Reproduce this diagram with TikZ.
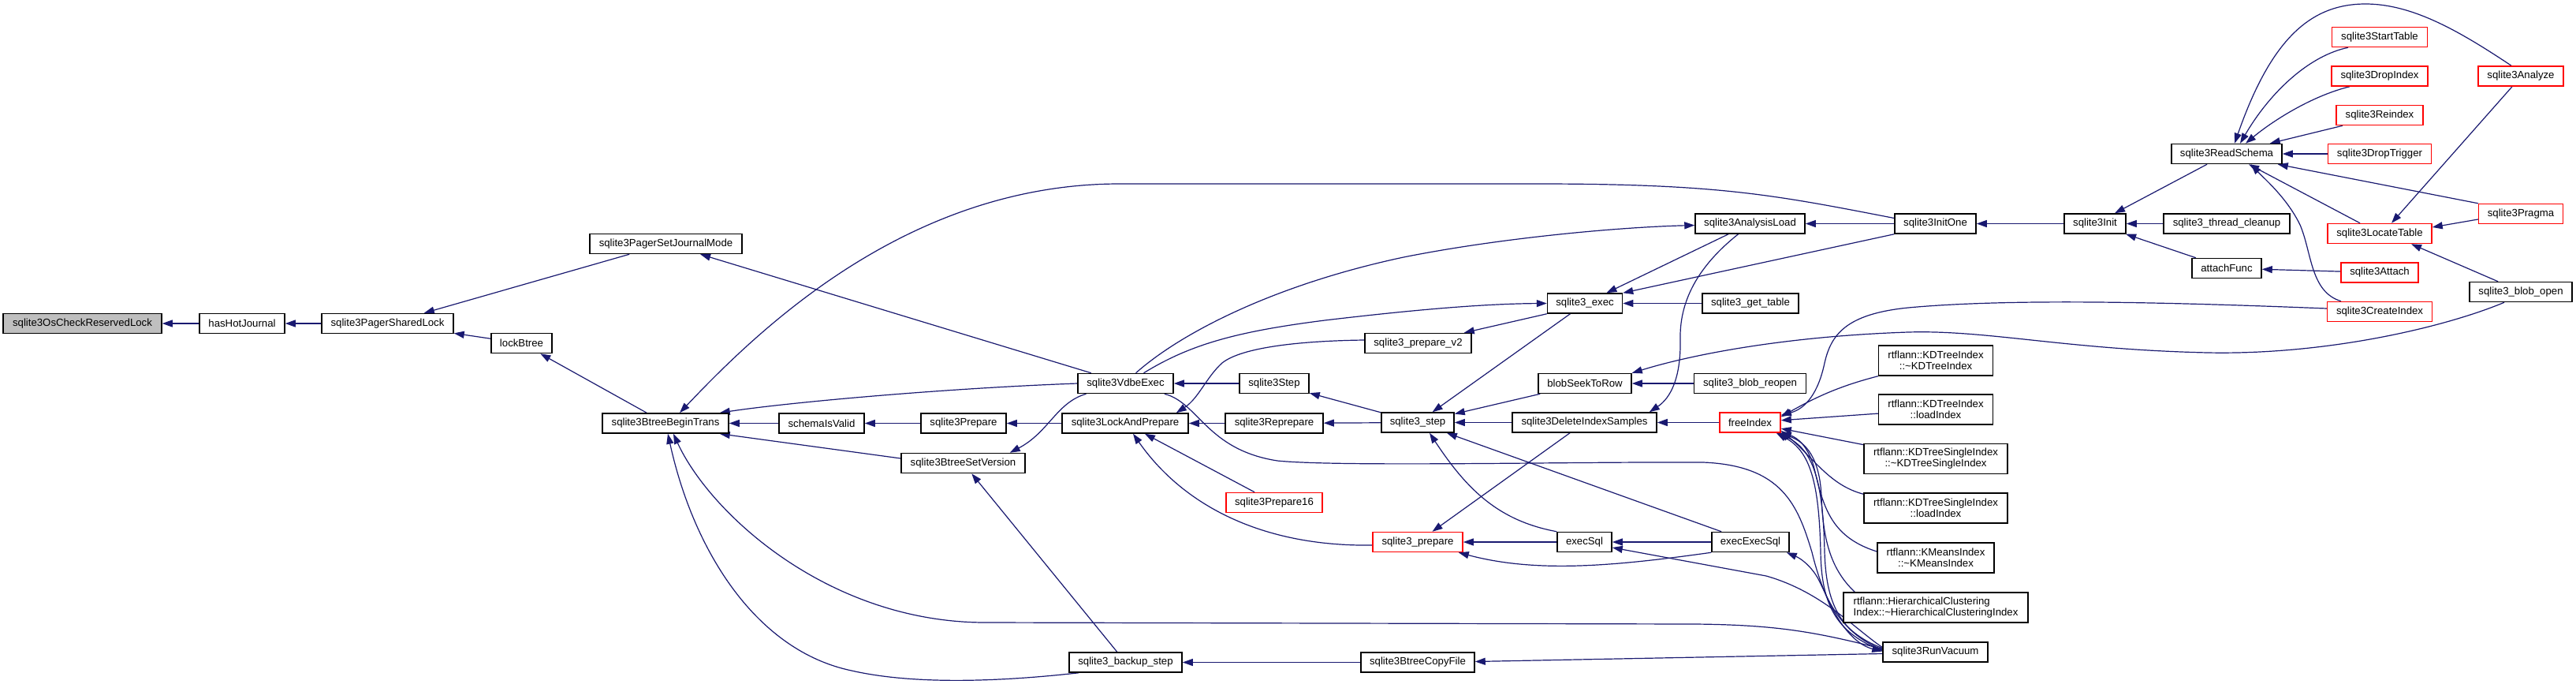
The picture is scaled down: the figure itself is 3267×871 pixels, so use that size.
\documentclass[tikz,border=0pt]{standalone}
\usepackage{fontspec}
\setmainfont{Liberation Sans}
\usetikzlibrary{arrows.meta}
\definecolor{edgec}{HTML}{191970}
\definecolor{rootfill}{HTML}{BFBFBF}
\pgfdeclarelayer{bg}
\pgfsetlayers{bg,main}
\tikzset{
 box/.style={draw=black, line width=1.5pt, fill=white, inner sep=0pt, minimum height=25pt, font=\fontsize{13.2pt}{14pt}\selectfont, anchor=center},
 redbox/.style={box, draw=red},
 tall/.style={minimum height=38pt, align=center},
 edge/.style={draw=edgec, line width=1.2pt, -{Triangle[length=13pt,width=9pt]}},
}
\begin{document}
\begin{tikzpicture}[x=1pt,y=-1pt]
\useasboundingbox (0,0) rectangle (3267,871);
% nodes
\node[box,fill=rootfill,minimum width=201pt] (oscheck) at (104.5,410) {sqlite3OsCheckReservedLock};
\node[box,minimum width=108pt] (hashot) at (307,410) {hasHotJournal};
\node[box,minimum width=167pt] (pshared) at (491.5,410) {sqlite3PagerSharedLock};
\node[box,minimum width=193pt] (psjm) at (844.5,309) {sqlite3PagerSetJournalMode};
\node[box,minimum width=77pt] (lockbtree) at (661.5,435) {lockBtree};
\node[box,minimum width=160pt] (bbt) at (844,536.5) {sqlite3BtreeBeginTrans};
\node[box,minimum width=108pt] (schemavalid) at (1042,536.5) {schemaIsValid};
\node[box,minimum width=121pt] (vdbeexec) at (1427.5,486) {sqlite3VdbeExec};
\node[box,minimum width=108pt] (prepare) at (1222,536.5) {sqlite3Prepare};
\node[box,minimum width=160pt] (lap) at (1427,536.5) {sqlite3LockAndPrepare};
\node[box,minimum width=157pt] (bsv) at (1221.5,587) {sqlite3BtreeSetVersion};
\node[box,minimum width=143pt] (backup) at (1427.5,839.5) {sqlite3\_backup\_step};
\node[box,minimum width=88pt] (step) at (1616,486) {sqlite3Step};
\node[box,minimum width=124pt] (reprepare) at (1616,536.5) {sqlite3Reprepare};
\node[redbox,minimum width=122pt] (prep16) at (1616,637) {sqlite3Prepare16};
\node[box,minimum width=135pt] (prepv2) at (1798.5,435) {sqlite3\_prepare\_v2};
\node[box,minimum width=95pt] (exec) at (2010,384.5) {sqlite3\_exec};
\node[box,minimum width=92pt] (stepu) at (1798,535.5) {sqlite3\_step};
\node[box,minimum width=118pt] (blobseek) at (2010,486) {blobSeekToRow};
\node[box,minimum width=183pt] (delidx) at (2009.5,535.5) {sqlite3DeleteIndexSamples};
\node[redbox,minimum width=114pt] (prepareu) at (1798,687) {sqlite3\_prepare};
\node[box,minimum width=69pt] (execsql) at (2009.5,687) {execSql};
\node[box,minimum width=144pt] (copyfile) at (1798,839.5) {sqlite3BtreeCopyFile};
\node[box,minimum width=139pt] (analysisload) at (2219.5,283.5) {sqlite3AnalysisLoad};
\node[box,minimum width=122pt] (gettable) at (2220,384.5) {sqlite3\_get\_table};
\node[box,minimum width=142pt] (blobreopen) at (2219.5,486) {sqlite3\_blob\_reopen};
\node[box,minimum width=98pt] (execexecsql) at (2220,687) {execExecSql};
\node[box,minimum width=103pt] (initone) at (2454.5,283.5) {sqlite3InitOne};
\node[box,minimum width=78pt] (init) at (2657,283.5) {sqlite3Init};
\node[redbox,minimum width=77pt] (freeindex) at (2219.5,535.5) {freeIndex};
\node[box,tall,minimum width=145pt] (kda) at (2455,457) {rtflann::KDTreeIndex\\::\textasciitilde KDTreeIndex};
\node[box,tall,minimum width=145pt] (kdb) at (2455,519) {rtflann::KDTreeIndex\\::loadIndex};
\node[box,tall,minimum width=182pt] (kdsa) at (2455,581.5) {rtflann::KDTreeSingleIndex\\::\textasciitilde KDTreeSingleIndex};
\node[box,tall,minimum width=182pt] (kdsb) at (2455,644) {rtflann::KDTreeSingleIndex\\::loadIndex};
\node[box,tall,minimum width=148pt] (kmi) at (2455,707) {rtflann::KMeansIndex\\::\textasciitilde KMeansIndex};
\node[box,tall,align=left,minimum width=234pt] (hc) at (2455,770) {rtflann::HierarchicalClustering\\Index::\textasciitilde HierarchicalClusteringIndex};
\node[box,minimum width=133pt] (runvac) at (2454.5,826.5) {sqlite3RunVacuum};
\node[box,minimum width=140pt] (readschema) at (2824,195) {sqlite3ReadSchema};
\node[box,minimum width=160pt] (threadclean) at (2824,283.5) {sqlite3\_thread\_cleanup};
\node[box,minimum width=88pt] (attachfunc) at (2824,340) {attachFunc};
\node[redbox,minimum width=121pt] (starttable) at (3018,47) {sqlite3StartTable};
\node[redbox,minimum width=122pt] (dropindex) at (3018,96.5) {sqlite3DropIndex};
\node[redbox,minimum width=110pt] (reindex) at (3018,146) {sqlite3Reindex};
\node[redbox,minimum width=131pt] (droptrigger) at (3018,195) {sqlite3DropTrigger};
\node[redbox,minimum width=132pt] (locatetable) at (3018,296) {sqlite3LocateTable};
\node[redbox,minimum width=98pt] (attach) at (3018,345.5) {sqlite3Attach};
\node[redbox,minimum width=133pt] (createindex) at (3018,395) {sqlite3CreateIndex};
\node[redbox,minimum width=108pt] (analyze) at (3197,96.5) {sqlite3Analyze};
\node[redbox,minimum width=107pt] (pragma) at (3197,271) {sqlite3Pragma};
\node[box,minimum width=130pt] (blobopen) at (3197,370) {sqlite3\_blob\_open};
% edges
\begin{pgfonlayer}{bg}
\fill[white] (0,0) rectangle (3267,871);
\draw[edge] (hashot) -- (oscheck);
\draw[edge] (pshared) -- (hashot);
\draw[edge] (psjm) -- (pshared);
\draw[edge] (lockbtree) -- (pshared);
\draw[edge] (bbt) -- (lockbtree);
\draw[edge] (vdbeexec) -- (psjm);
\draw[edge] ([yshift=7pt]initone.west) .. controls (2250,247) and (2180,233) .. (1950,233) -- (1420,233) .. controls (1150,233) and (960,420) .. ([xshift=18pt]bbt.north);
\draw[edge] (vdbeexec.west) .. controls (1200,492) and (1000,510) .. ([xshift=-12pt]bbt.north east);
\draw[edge] (schemavalid) -- (bbt);
\draw[edge] ([yshift=6pt]bsv.west) -- ([xshift=-12pt]bbt.south east);
\draw[edge] ([yshift=4pt]runvac.west) .. controls (2300,800) and (2250,792) .. (2150,791) -- (1250,789) .. controls (1050,789) and (900,650) .. ([xshift=10pt]bbt.south);
\draw[edge] ([xshift=13pt]backup.south west) .. controls (1250,866) and (1150,866) .. (1080,850) .. controls (960,825) and (880,700) .. ([xshift=3pt]bbt.south);
\draw[edge] (prepare) -- (schemavalid);
\draw[edge] (lap) -- (prepare);
\draw[edge] ([xshift=-50pt]vdbeexec.south) .. controls (1340,510) and (1330,548) .. ([xshift=-20pt]bsv.north east);
\draw[edge] (backup) -- (bsv);
\draw[edge] (step) -- (vdbeexec);
\draw[edge] ([xshift=13pt]vdbeexec.north) .. controls (1500,420) and (1620,360) .. (1780,326) .. controls (1900,302) and (2050,288) .. ([yshift=-2pt]analysisload.west);
\draw[edge] ([xshift=23pt]vdbeexec.north) .. controls (1510,436) and (1570,420) .. (1680,406) .. controls (1790,393) and (1880,385) .. (exec.west);
\draw[edge] ([yshift=4pt]prepv2.west) .. controls (1650,432) and (1575,440) .. (1550,460) .. controls (1530,478) and (1520,505) .. ([xshift=-16pt]lap.north east);
\draw[edge] ([xshift=-12pt]vdbeexec.south east) .. controls (1520,510) and (1530,570) .. (1620,584) .. controls (1700,592) and (2000,585) .. (2160,586) .. controls (2260,590) and (2280,640) .. (2298,700) .. controls (2315,770) and (2345,815) .. ([yshift=1pt]runvac.west);
\draw[edge] (prep16) -- (lap);
\draw[edge] (reprepare) -- (lap);
\draw[edge] ([yshift=-4pt]prepareu.west) .. controls (1600,693) and (1500,640) .. ([xshift=10pt]lap.south);
\draw[edge] (exec.south west) -- ([xshift=-10pt]prepv2.north east);
\draw[edge] (exec) -- (stepu);
\draw[edge] (stepu) -- (step);
\draw[edge] (stepu) -- (reprepare);
\draw[edge] (blobseek) -- (stepu);
\draw[edge] (delidx) -- (stepu);
\draw[edge] (execsql.north west) .. controls (1900,660) and (1860,620) .. ([xshift=15pt]stepu.south);
\draw[edge] (execexecsql) -- (stepu);
\draw[edge] (delidx) -- (prepareu);
\draw[edge] (execsql) -- (prepareu);
\draw[edge] (execexecsql.south west) .. controls (2050,717) and (1950,727) .. ([xshift=-6pt]prepareu.south east);
\draw[edge] (execexecsql) -- (execsql);
\draw[edge] ([yshift=6pt]runvac.west) .. controls (2350,795) and (2310,750) .. (2240,730) -- ([yshift=-7pt]execsql.east);
\draw[edge] ([yshift=-2pt]runvac.west) -- ([yshift=1pt]copyfile.east);
\draw[edge] (copyfile) -- (backup);
\draw[edge] (initone) -- (analysisload);
\draw[edge] (analysisload) -- (exec);
\draw[edge] (initone.south west) -- (exec.north east);
\draw[edge] ([xshift=-15pt]analysisload.south) .. controls (2150,340) and (2130,385) .. (2131,430) .. controls (2132,480) and (2118,505) .. ([xshift=-10pt]delidx.north east);
\draw[edge] (gettable) -- (exec);
\draw[edge] (blobreopen) -- (blobseek);
\draw[edge] ([xshift=-21pt]blobopen.south) .. controls (3100,415) and (2950,450) .. (2800,447) .. controls (2620,443) and (2520,418) .. (2420,421) .. controls (2270,426) and (2150,448) .. (blobseek.north east);
\draw[edge] (freeindex) -- (delidx);
\draw[edge] (init) -- (initone);
\draw[edge] (readschema) -- (init);
\draw[edge] (threadclean) -- (init);
\draw[edge] (attachfunc) -- (init);
\draw[edge] (attach) -- (attachfunc);
% freeIndex callers
\draw[edge] ([yshift=4pt]createindex.west) .. controls (2750,383) and (2550,378) .. (2420,390) .. controls (2340,398) and (2322,425) .. (2314,460) .. controls (2306,498) and (2290,518) .. ([yshift=-4pt]freeindex.north east);
\draw[edge] (kda.south west) .. controls (2330,490) and (2300,505) .. ([yshift=-6pt]freeindex.north east);
\draw[edge] (kdb) -- (freeindex);
\draw[edge] (kdsa) -- (freeindex);
\draw[edge] ([yshift=-2pt]kdsb.north west) .. controls (2320,615) and (2300,580) .. ([yshift=3pt]freeindex.south east);
\draw[edge] ([yshift=8pt]kmi.west) .. controls (2320,680) and (2312,640) .. (2300,590) .. controls (2292,565) and (2280,555) .. ([yshift=1pt]freeindex.south east);
\draw[edge] ([xshift=15pt]hc.north west) .. controls (2320,720) and (2312,680) .. (2310,630) .. controls (2308,580) and (2290,560) .. ([xshift=-2pt]freeindex.south east);
\draw[edge] ([yshift=3pt]runvac.west) .. controls (2330,800) and (2316,760) .. (2314,700) .. controls (2312,610) and (2300,570) .. ([xshift=-4pt]freeindex.south east);
\draw[edge] ([yshift=2pt]runvac.west) .. controls (2326,802) and (2310,762) .. (2309,700) .. controls (2307,612) and (2296,572) .. ([xshift=-6pt]freeindex.south east);
\draw[edge] ([yshift=5pt]runvac.west) .. controls (2330,800) and (2320,760) .. (2305,732) .. controls (2295,715) and (2282,707) .. ([xshift=-4pt]execexecsql.south east);
% readSchema callers
\draw[edge] ([xshift=-12pt]analyze.north) .. controls (3120,40) and (3060,5) .. (3000,5) .. controls (2930,5) and (2880,50) .. ([xshift=10pt]readschema.north);
\draw[edge] ([xshift=-40pt]starttable.south) .. controls (2930,70) and (2880,115) .. ([xshift=17pt]readschema.north);
\draw[edge] ([xshift=-38pt]dropindex.south) .. controls (2930,122) and (2880,155) .. ([xshift=24pt]readschema.north);
\draw[edge] ([xshift=-47pt]reindex.south) -- ([xshift=-16pt]readschema.north east);
\draw[edge] (droptrigger) -- (readschema);
\draw[edge] (pragma.north west) -- ([xshift=-6pt]readschema.south east);
\draw[edge] ([xshift=-25pt]locatetable.north) -- ([xshift=28pt]readschema.south);
\draw[edge] ([xshift=-49pt]createindex.north) .. controls (2930,370) and (2932,320) .. (2917,285) .. controls (2900,250) and (2870,225) .. ([xshift=31pt]readschema.south);
\draw[edge] ([xshift=-11pt]analyze.south) -- ([xshift=15pt]locatetable.north);
\draw[edge] ([yshift=-7pt]pragma.west) -- ([yshift=8pt]locatetable.east);
\draw[edge] ([xshift=-29pt]blobopen.north) -- ([xshift=40pt]locatetable.south);
\end{pgfonlayer}
\end{tikzpicture}
\end{document}
